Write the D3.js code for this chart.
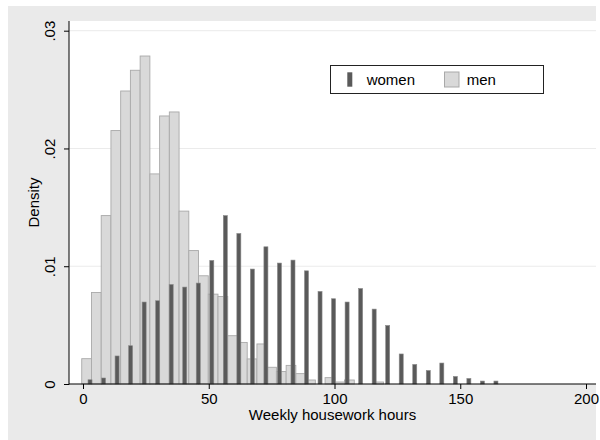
<!DOCTYPE html>
<html>
<head>
<meta charset="utf-8">
<script src="https://cdn.jsdelivr.net/npm/d3@7"></script>
<style>
  body { margin: 0; background: #fff; }
  svg { display: block; font-family: "Liberation Sans", Arial, sans-serif; }
</style>
</head>
<body>
<svg id="chart" width="600" height="440"></svg>
<script>
// density per bin
const menDensity = [0.00215, 0.00777, 0.01430, 0.02152, 0.02488, 0.02664, 0.02785, 0.01784,
  0.02276, 0.02310, 0.01468, 0.01133, 0.00919, 0.00763, 0.00743, 0.00410, 0.00353, 0.00213,
  0.00340, 0.00142, 0.00106, 0.00158, 0.00088, 0.00034, 0, 0.00054, 0.00017, 0.00034, 0, 0, 0.00017];
const womenDensity = [0.00036, 0.00051, 0.00238, 0.00325, 0.00696, 0.00707, 0.00845, 0.00823,
  0.00857, 0.01049, 0.01430, 0.01278, 0.00976, 0.01165, 0.01027, 0.01052, 0.00961, 0.00786,
  0.00724, 0.00696, 0.00811, 0.00636, 0.00497, 0.00255, 0.00166, 0.00115, 0.00178, 0.00064,
  0.00047, 0.00025, 0.00025];
const menStart = -0.5;
const menWidth = 3.87;
const womenStart = 0.1;
const womenWidth = 5.38;
const xTicks = [0, 50, 100, 150, 200];
const yTicks = [0, 0.01, 0.02, 0.03];
const yTickLabels = ['0', '.01', '.02', '.03'];
const legendItems = ['women', 'men'];

const svg = d3.select('#chart');
const plot = { left: 69, right: 596, top: 21, bottom: 384 };

const x = d3.scaleLinear().domain([0, 200]).range([83, 586]);
const y = d3.scaleLinear().domain([0, 0.03]).range([384, 30.7]);

// outer grey frame
svg.append('rect')
  .attr('x', 8).attr('y', 6).attr('width', 588).attr('height', 434)
  .attr('fill', '#eaeaea');

svg.append('rect')
  .attr('x', plot.left).attr('y', plot.top)
  .attr('width', plot.right - plot.left).attr('height', plot.bottom - plot.top)
  .attr('fill', '#fff');

// grid
svg.append('g')
  .selectAll('line')
  .data(yTicks.slice(1))
  .enter()
  .append('line')
  .attr('x1', plot.left)
  .attr('x2', plot.right)
  .attr('y1', d => y(d))
  .attr('y2', d => y(d))
  .attr('stroke', '#ebebeb')
  .attr('stroke-width', 1);

// men histogram
const menG = svg.append('g');
menDensity.forEach((d, i) => {
  if (d <= 0) return;
  const x0 = menStart + menWidth * i;
  menG.append('rect')
    .attr('x', x(x0))
    .attr('width', x(x0 + menWidth) - x(x0))
    .attr('y', y(d))
    .attr('height', y(0) - y(d))
    .attr('fill', '#d9d9d9')
    .attr('stroke', '#a9a9a9')
    .attr('stroke-width', 0.9);
});

// women histogram, drawn as thin bars
const womenBar = 1.6;
const womenG = svg.append('g');
womenDensity.forEach((d, i) => {
  const c = womenStart + womenWidth * (i + 0.5);
  womenG.append('rect')
    .attr('x', x(c - womenBar / 2))
    .attr('width', x(c + womenBar / 2) - x(c - womenBar / 2))
    .attr('y', y(d))
    .attr('height', y(0) - y(d))
    .attr('fill', '#5a5a5a')
    .attr('stroke', '#8a8a8a')
    .attr('stroke-width', 0.6);
});

// axes
const yAxis = svg.append('g')
  .attr('transform', `translate(${plot.left},0)`)
  .call(d3.axisLeft(y).tickValues(yTicks).tickSize(5).tickSizeOuter(0)
    .tickFormat((d, i) => yTickLabels[i]));
yAxis.select('.domain').remove();
yAxis.selectAll('.tick line').attr('stroke', '#000');
yAxis.selectAll('.tick text')
  .attr('transform', 'rotate(-90)')
  .attr('text-anchor', 'middle')
  .attr('x', 0)
  .attr('y', -14.5)
  .attr('dy', 0)
  .attr('font-size', 15)
  .attr('font-family', '"Liberation Sans", Arial, sans-serif')
  .attr('fill', '#000');

const xAxis = svg.append('g')
  .attr('transform', `translate(0,${plot.bottom})`)
  .call(d3.axisBottom(x).tickValues(xTicks).tickSize(5).tickSizeOuter(0).tickPadding(4));
xAxis.select('.domain').remove();
xAxis.selectAll('.tick line').attr('stroke', '#000');
xAxis.selectAll('.tick text')
  .attr('font-size', 15)
  .attr('font-family', '"Liberation Sans", Arial, sans-serif')
  .attr('fill', '#000');

svg.append('line')
  .attr('x1', plot.left).attr('x2', plot.left)
  .attr('y1', plot.top).attr('y2', plot.bottom + 0.5)
  .attr('stroke', '#000');
svg.append('line')
  .attr('x1', plot.left).attr('x2', plot.right)
  .attr('y1', plot.bottom).attr('y2', plot.bottom)
  .attr('stroke', '#000');

// titles
svg.append('text')
  .attr('x', (plot.left + plot.right) / 2)
  .attr('y', 420)
  .attr('text-anchor', 'middle')
  .attr('font-size', 15)
  .text('Weekly housework hours');

svg.append('text')
  .attr('transform', `translate(39,${(plot.top + plot.bottom) / 2}) rotate(-90)`)
  .attr('text-anchor', 'middle')
  .attr('font-size', 15)
  .text('Density');

// legend
const legend = svg.append('g');
legend.append('rect')
  .attr('x', 330.5).attr('y', 65.5).attr('width', 213).attr('height', 28)
  .attr('fill', '#fff')
  .attr('stroke', '#222');
legend.append('rect')
  .attr('x', 347.3).attr('y', 72.3).attr('width', 5).attr('height', 14.4)
  .attr('fill', '#5a5a5a');
legend.append('rect')
  .attr('x', 444.5).attr('y', 72).attr('width', 14.5).attr('height', 15)
  .attr('fill', '#d9d9d9')
  .attr('stroke', '#a9a9a9');
legend.selectAll('text.lab')
  .data(legendItems)
  .enter()
  .append('text')
  .attr('class', 'lab')
  .attr('x', (d, i) => (i === 0 ? 366.7 : 466.7))
  .attr('y', 85)
  .attr('font-size', 15)
  .text(d => d);
</script>
</body>
</html>
